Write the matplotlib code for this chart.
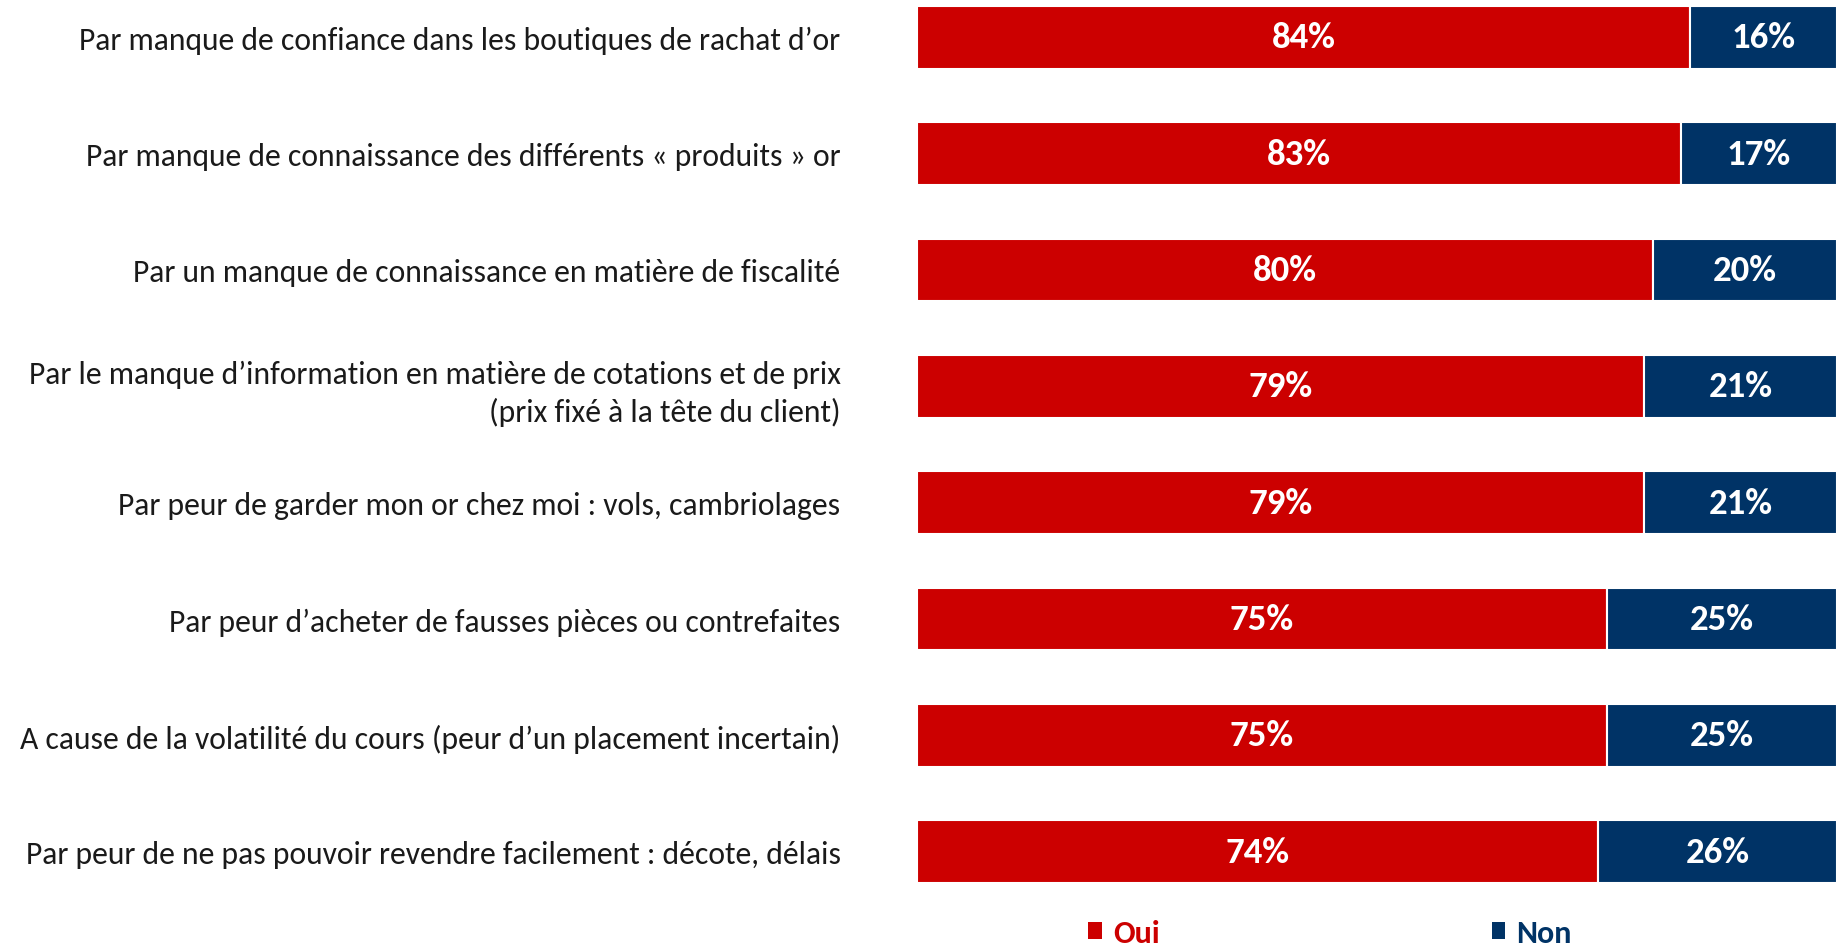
import matplotlib
matplotlib.use("Agg")
import matplotlib.pyplot as plt
from matplotlib.patches import Patch

categories = [
    "Par manque de confiance dans les boutiques de rachat d’or",
    "Par manque de connaissance des différents « produits » or",
    "Par un manque de connaissance en matière de fiscalité",
    "Par le manque d’information en matière de cotations et de prix\n(prix fixé à la tête du client)",
    "Par peur de garder mon or chez moi : vols, cambriolages",
    "Par peur d’acheter de fausses pièces ou contrefaites",
    "A cause de la volatilité du cours (peur d’un placement incertain)",
    "Par peur de ne pas pouvoir revendre facilement : décote, délais",
]
oui = [84, 83, 80, 79, 79, 75, 75, 74]
non = [16, 17, 20, 21, 21, 25, 25, 26]
series_names = ["Oui", "Non"]
RED = "#CC0000"
NAVY = "#003366"

plt.rcParams['font.family'] = ['Carlito', 'Liberation Sans Narrow', 'DejaVu Sans']

fig = plt.figure(figsize=(18.37, 9.45), dpi=100)
ax = fig.add_axes([917/1837, 34/945, 920/1837, 931/945])

y = list(range(len(categories)))
ax.barh(y, oui, height=0.54, color=RED, edgecolor="white", linewidth=1.5)
ax.barh(y, non, left=oui, height=0.54, color=NAVY, edgecolor="white", linewidth=1.5)

for i in y:
    ax.text(oui[i] / 2, i, f"{oui[i]}%", ha="center", va="center",
            color="white", fontsize=26.5, fontweight="bold")
    ax.text(oui[i] + non[i] / 2, i, f"{non[i]}%", ha="center", va="center",
            color="white", fontsize=26.5, fontweight="bold")

ax.set_xlim(0, 100)
ax.set_ylim(len(categories) - 0.5, -0.5)
ax.set_yticks(y)
ax.set_yticklabels(categories, fontsize=22.8, color="#1a1a1a", ha="right",
                   multialignment="right", linespacing=1.35)
ax.tick_params(axis="y", length=0, pad=55)
ax.tick_params(axis="x", bottom=False, labelbottom=False)
for s in ax.spines.values():
    s.set_visible(False)

handles = [Patch(facecolor=RED), Patch(facecolor=NAVY)]
leg = fig.legend(handles, series_names, loc="center", bbox_to_anchor=(1330/1837, 11/945),
                 ncol=2, frameon=False, handlelength=0.42, handleheight=0.42,
                 handletextpad=0.35, columnspacing=10.4,
                 prop={"size": 23, "weight": "bold"})
for t, c in zip(leg.get_texts(), [RED, NAVY]):
    t.set_color(c)

fig.savefig("out.png", dpi=100)
